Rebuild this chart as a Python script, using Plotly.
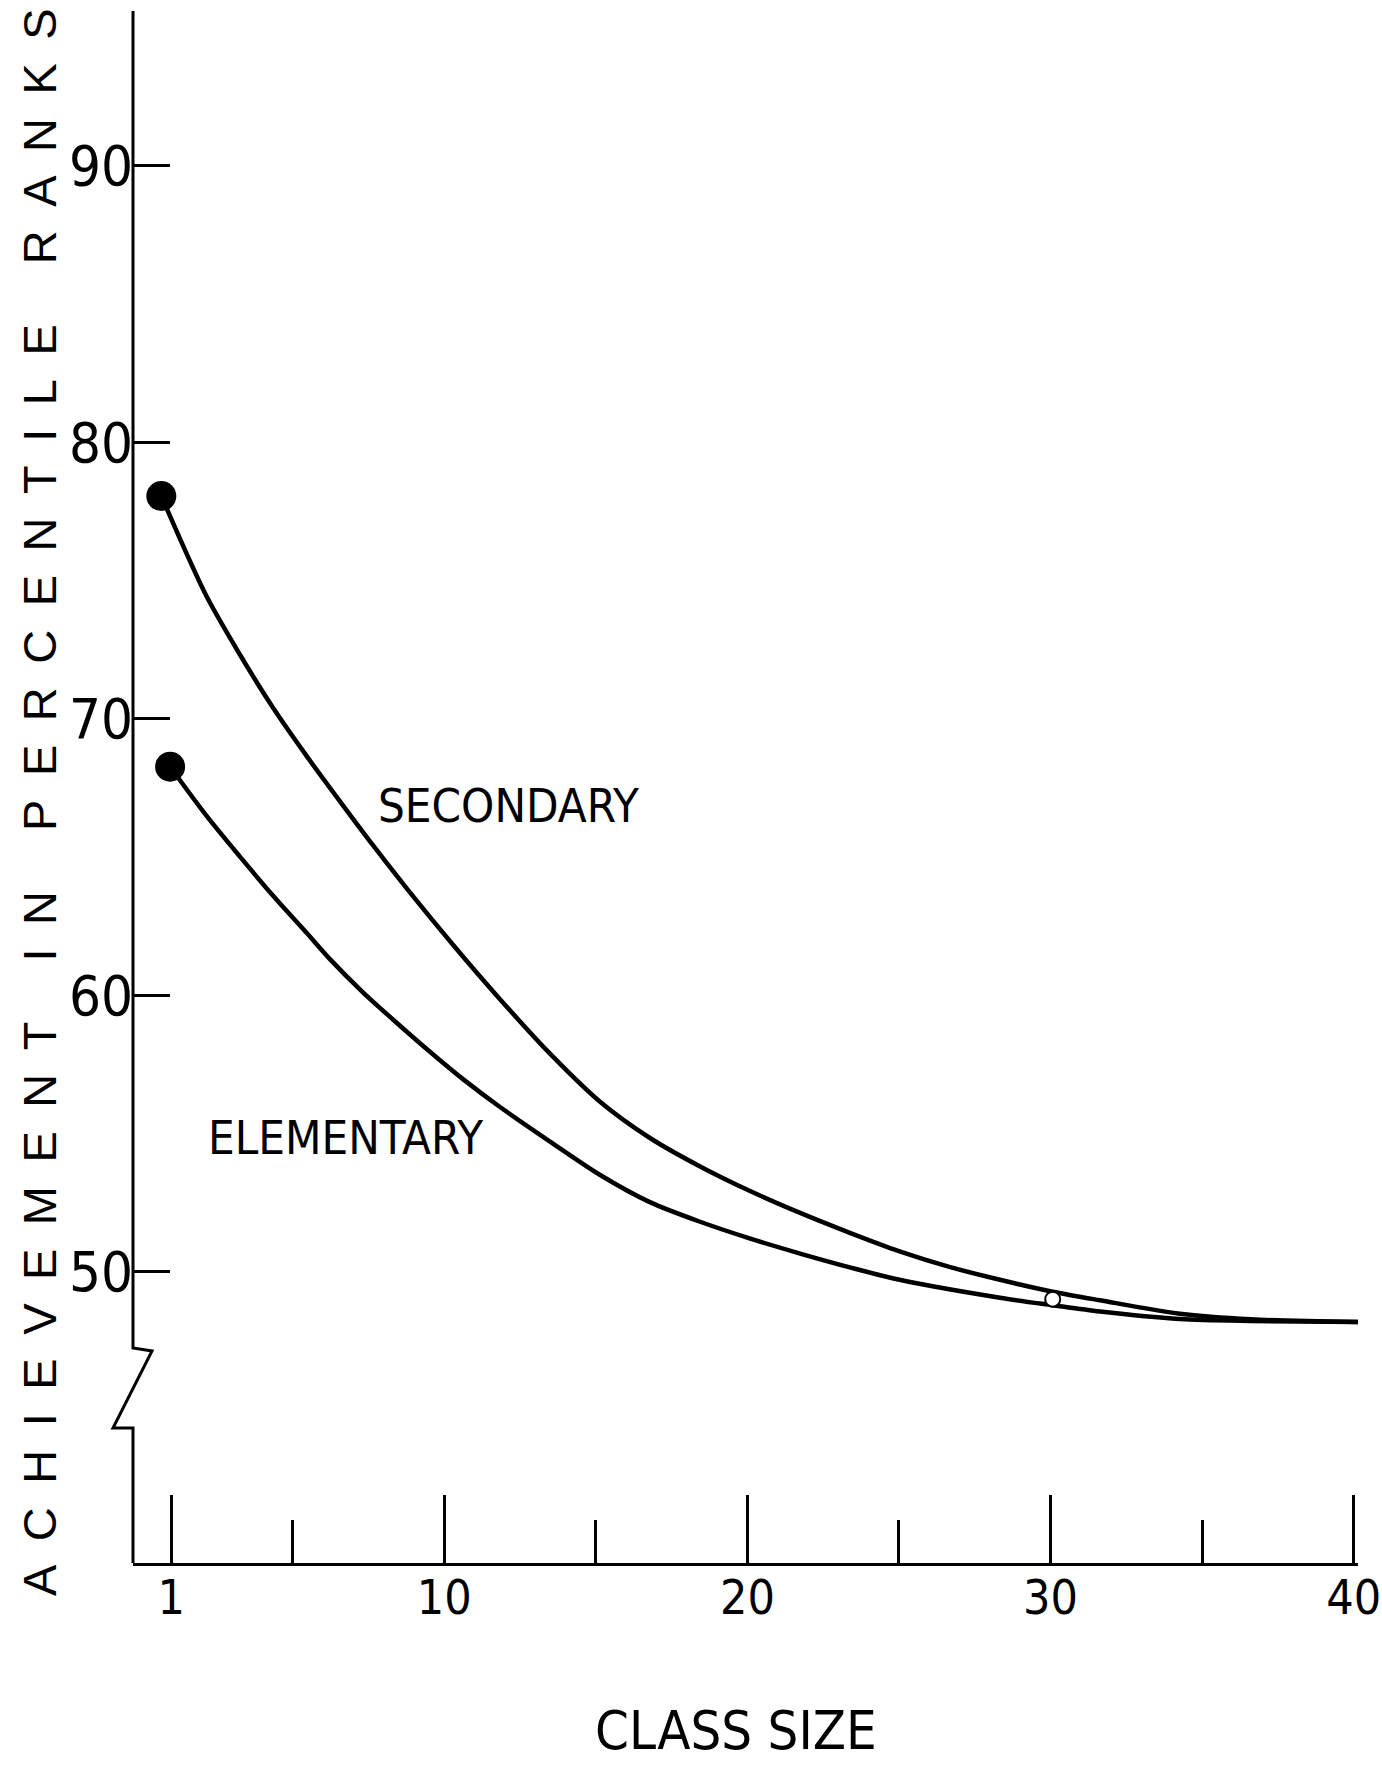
import plotly.graph_objects as go

# ---- data ----
secondary_x = [0.67, 2.15, 3.27, 4.35, 5.46, 6.58, 7.65, 8.77, 10.29, 11.84, 13.49, 15.13,
               16.80, 18.44, 20.07, 21.74, 23.38, 25.02, 26.69, 28.33, 30.07, 31.63, 34.27,
               36.60, 40.26]
secondary_y = [78.05, 74.45, 72.30, 70.40, 68.65, 66.98, 65.42, 63.85, 61.82, 59.85, 57.88, 56.15,
               54.82, 53.80, 52.92, 52.12, 51.40, 50.73, 50.16, 49.70, 49.27, 48.96, 48.47,
               48.27, 48.17]

elementary_x = [0.96, 2.15, 3.27, 4.35, 5.46, 6.23, 7.32, 8.43, 9.53, 10.63, 11.84, 13.49,
                15.13, 16.80, 18.44, 20.07, 21.74, 23.38, 25.02, 28.33, 30.07, 31.63, 34.27,
                36.60, 40.26]
elementary_y = [68.26, 66.50, 65.00, 63.60, 62.25, 61.30, 60.10, 59.00, 57.95, 56.95, 55.95, 54.70,
                53.50, 52.50, 51.80, 51.20, 50.65, 50.15, 49.70, 49.05, 48.78, 48.55, 48.28,
                48.21, 48.17]

open_point_x = [30.07]
open_point_y = [49.0]

x_major_ticks = [1, 10, 20, 30, 40]
x_minor_ticks = [5, 15, 25, 35]
y_ticks = [50, 60, 70, 80, 90]

x_title = "CLASS SIZE"
y_title = "ACHIEVEMENT IN PERCENTILE RANKS"
series_labels = ["SECONDARY", "ELEMENTARY"]

# ---- layout geometry (page pixels; body margin removed below) ----
W, H = 1382, 1767
ML, MR, MT, MB = 133, 24, 11, 204
PW, PH = W - ML - MR, H - MT - MB

NARROW = "DejaVu Sans Condensed, Liberation Sans Narrow, Arial Narrow, DejaVu Sans, sans-serif"
WIDE = "Liberation Sans, Arial, sans-serif"


def paper(px, py):
    """page pixel -> paper coordinates"""
    return (px - ML) / PW, (H - MB - py) / PH


def spaced(text):
    letter_gap = "\u2002"
    word_gap = "\u2002\u00a0\u2002"
    return word_gap.join(letter_gap.join(list(w)) for w in text.split(" "))


fig = go.Figure()

line_style = dict(color="black", width=4.5, shape="spline", smoothing=0.8)
fig.add_trace(go.Scatter(x=secondary_x, y=secondary_y, mode="lines", line=line_style,
                         cliponaxis=False, showlegend=False, name=series_labels[0]))
fig.add_trace(go.Scatter(x=elementary_x, y=elementary_y, mode="lines", line=line_style,
                         cliponaxis=False, showlegend=False, name=series_labels[1]))

# end-point markers
fig.add_trace(go.Scatter(
    x=[secondary_x[0], elementary_x[0], secondary_x[-1]],
    y=[secondary_y[0], elementary_y[0], secondary_y[-1]],
    mode="markers", marker=dict(color="black", size=30, symbol="circle"),
    cliponaxis=False, showlegend=False))

fig.add_trace(go.Scatter(
    x=open_point_x, y=open_point_y, mode="markers",
    marker=dict(color="white", size=15, line=dict(color="black", width=2)),
    cliponaxis=False, showlegend=False))

# y axis line with a break (page pixel positions)
pts = [(133, 11), (133, 1348), (152, 1351), (113, 1428), (133, 1428), (133, 1563)]
path = ""
for i, (px, py) in enumerate(pts):
    ux, uy = paper(px, py)
    path += ("M" if i == 0 else " L") + f"{ux:.5f},{uy:.5f}"
fig.add_shape(type="path", path=path, xref="paper", yref="paper",
              line=dict(color="black", width=3))

# in-plot series labels
sx, sy = paper(508, 806)
fig.add_annotation(x=sx, y=sy, xref="paper", yref="paper", text=series_labels[0],
                   xanchor="center", yanchor="middle", showarrow=False,
                   font=dict(family=NARROW, size=47, color="black"))
ex, ey = paper(345, 1137)
fig.add_annotation(x=ex, y=ey, xref="paper", yref="paper", text=series_labels[1],
                   xanchor="center", yanchor="middle", showarrow=False,
                   font=dict(family=NARROW, size=47, color="black"))

# axis titles
tx, ty = paper(736, 1730)
fig.add_annotation(x=tx, y=ty, xref="paper", yref="paper", text=x_title,
                   xanchor="center", yanchor="middle", showarrow=False,
                   font=dict(family=NARROW, size=54, color="black"))
yx, yy = paper(39, 802)
fig.add_annotation(x=yx, y=yy, xref="paper", yref="paper", text=spaced(y_title),
                   textangle=-90, xanchor="center", yanchor="middle", showarrow=False,
                   font=dict(family=WIDE, size=47, color="black"))

x0, x1 = -0.264, 40.14
y0, y1 = 39.456, 95.596

fig.update_layout(
    width=W, height=H, autosize=False,
    margin=dict(l=ML, r=MR, t=MT, b=MB, pad=0, autoexpand=False),
    paper_bgcolor="white", plot_bgcolor="white",
    xaxis=dict(range=[x0, x1], showgrid=False, zeroline=False, automargin=False,
               showline=True, linecolor="black", linewidth=3,
               tickmode="array", tickvals=x_major_ticks,
               ticktext=[str(v) for v in x_major_ticks],
               ticks="inside", ticklen=68, tickwidth=3, tickcolor="black",
               ticklabelstandoff=-10, ticklabeloverflow="allow",
               tickfont=dict(family=NARROW, size=48, color="black"),
               minor=dict(tickmode="array", tickvals=x_minor_ticks, ticks="inside",
                          ticklen=43, tickwidth=3, tickcolor="black", showgrid=False)),
    yaxis=dict(range=[y0, y1], showgrid=False, zeroline=False, showline=False,
               automargin=False,
               tickmode="array", tickvals=y_ticks, ticktext=[str(v) for v in y_ticks],
               ticks="inside", ticklen=37, tickwidth=3, tickcolor="black",
               ticklabelstandoff=-1, ticklabeloverflow="allow",
               tickfont=dict(family=NARROW, size=56, color="black")),
)

fig.write_html("out.html", default_width="1382px", default_height="1767px",
               config={"displayModeBar": False},
               post_script="document.body.style.margin='0';"
                           "document.documentElement.style.overflow='hidden';")
